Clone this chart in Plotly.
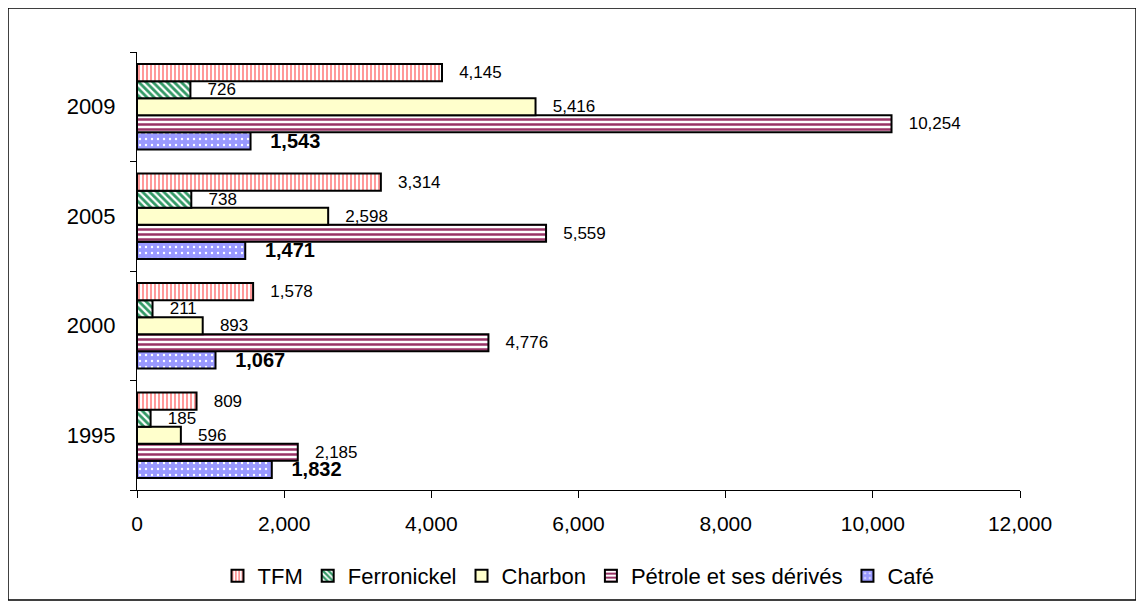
import plotly.graph_objects as go

years = ["1995", "2000", "2005", "2009"]
cafe = [1832, 1067, 1471, 1543]
petrole = [2185, 4776, 5559, 10254]
charbon = [596, 893, 2598, 5416]
ferronickel = [185, 211, 738, 726]
tfm = [809, 1578, 3314, 4145]

fig = go.Figure()

def lab(vals):
    return ["   " + f"{v:,}" for v in vals]

# first trace is drawn at the bottom of each group
series = [
    ("Café", cafe, dict(color="#9999FF", pattern=dict(shape=".", fgcolor="white", size=6, solidity=0.12, fgopacity=1)), True),
    ("Pétrole et ses dérivés", petrole, dict(color="white", pattern=dict(shape="-", fgcolor="#993366", size=5, solidity=0.5, fgopacity=1)), False),
    ("Charbon", charbon, dict(color="#FFFFCC"), False),
    ("Ferronickel", ferronickel, dict(color="white", pattern=dict(shape="\\", fgcolor="#339966", size=5, solidity=0.55, fgopacity=1)), False),
    ("TFM", tfm, dict(color="white", pattern=dict(shape="|", fgcolor="#FF8080", size=4, solidity=0.4, fgopacity=1)), False),
]

for name, vals, mk, bold in series:
    mk["line"] = dict(color="black", width=2)
    fig.add_trace(go.Bar(
        y=years, x=vals, name=name, orientation="h",
        marker=mk,
        text=lab(vals),
        textposition="outside",
        constraintext="none",
        cliponaxis=False,
        textfont=dict(size=20 if bold else 17, color="black",
                      family="Liberation Sans", weight="bold" if bold else "normal"),
    ))

fig.update_layout(
    width=1144, height=608,
    barmode="group", bargap=0.22, bargroupgap=0,
    plot_bgcolor="white", paper_bgcolor="white",
    margin=dict(l=129, r=132, t=44, b=126, autoexpand=False),
    font=dict(family="Liberation Sans", color="black"),
    legend=dict(orientation="h", traceorder="reversed", x=0.5, xanchor="center",
                y=-0.196, yanchor="middle", font=dict(size=22),
                itemwidth=30, bgcolor="rgba(0,0,0,0)"),
    showlegend=True,
    shapes=[dict(type="rect", xref="paper", yref="paper",
                 x0=-0.1461, x1=1.1314, y0=-0.2511, y1=1.1005,
                 line=dict(color="black", width=1.5))],
)
fig.update_xaxes(range=[0, 12000], dtick=2000, tickformat=",", showgrid=False,
                 showline=True, linecolor="black", ticks="outside", ticklen=7,
                 tickcolor="black", tickfont=dict(size=21), zeroline=False,
                 ticklabelstandoff=8, automargin=False)
fig.update_yaxes(showgrid=False, showline=True, linecolor="black", ticks="outside",
                 tickson="boundaries", ticklen=6, tickcolor="black",
                 tickfont=dict(size=22), ticklabelstandoff=16, automargin=False)

fig.write_html("out.html")
